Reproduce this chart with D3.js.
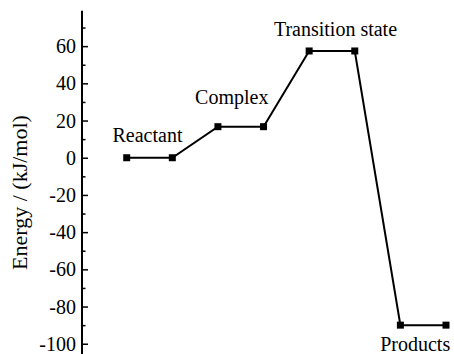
<!DOCTYPE html>
<html><head><meta charset="utf-8">
<script src="https://cdn.jsdelivr.net/npm/d3@7"></script>
</head><body style="margin:0;background:#fff">
<svg id="c" width="454" height="354" style="display:block"></svg>
<script>
const states = ["Reactant","Complex","Transition state","Products"];
const energies = [0, 16.7, 57.4, -90];
const majorTicks = [-100,-80,-60,-40,-20,0,20,40,60];
const minorTicks = [-90,-70,-50,-30,-10,10,30,50,70];
const yTitle = "Energy / (kJ/mol)";

const FONT = "'Liberation Serif', 'Times New Roman', serif";
const svg = d3.select("#c");
const y = d3.scaleLinear().domain([-106, 79]).range([354.9, 10.8]);
const x = d3.scaleLinear().domain([0, 7]).range([126.7, 446]);
const axisX = 82;

const pts = [];
energies.forEach((e,i)=>{ pts.push({i:2*i, e}); pts.push({i:2*i+1, e}); });

const ax = svg.append("g").attr("transform",`translate(${axisX},0)`);
ax.call(d3.axisRight(y).tickValues(majorTicks).tickSize(6).tickFormat(""));
ax.append("g").call(d3.axisRight(y).tickValues(minorTicks).tickSize(3.5).tickFormat(""));
ax.selectAll(".domain").remove();
ax.selectAll("line").attr("stroke","#000").attr("stroke-width",1.5);
ax.append("line").attr("x1",0).attr("x2",0).attr("y1",y.range()[1]).attr("y2",y.range()[0])
  .attr("stroke","#000").attr("stroke-width",2);
ax.selectAll(".lbl").data(majorTicks).enter().append("text")
  .attr("x",-6).attr("y",d=>y(d)).attr("dy","0.35em").attr("text-anchor","end")
  .style("font-family",FONT).style("font-size","20px").attr("fill","#000").text(d=>d);

svg.append("text").attr("transform",`translate(27,192.5) rotate(-90)`)
  .attr("text-anchor","middle").style("font-family",FONT).style("font-size","22px").attr("fill","#000").text(yTitle);

svg.append("path").datum(pts)
  .attr("d", d3.line().x(d=>x(d.i)).y(d=>y(d.e)))
  .attr("fill","none").attr("stroke","#000").attr("stroke-width",2);
svg.selectAll("rect.m").data(pts).enter().append("rect")
  .attr("x",d=>x(d.i)-3.5).attr("y",d=>y(d.e)-3.5).attr("width",7).attr("height",7).attr("fill","#000");

const offs = [[-2,-16],[-9,-22.7],[3.5,-15.3],[-8,26]];
svg.selectAll("text.st").data(states).enter().append("text")
  .attr("x",(d,i)=>(x(2*i)+x(2*i+1))/2 + offs[i][0])
  .attr("y",(d,i)=>y(energies[i]) + offs[i][1])
  .attr("text-anchor","middle").style("font-family",FONT).style("font-size","20px").attr("fill","#000").text(d=>d);
</script>
</body></html>
